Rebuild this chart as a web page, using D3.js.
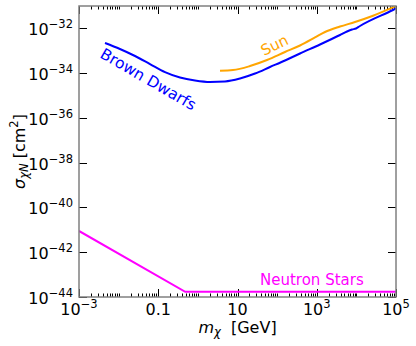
<!DOCTYPE html>
<html lang="en">
<head>
<meta charset="utf-8">
<script src="https://d3js.org/d3.v7.min.js"></script>
<style type="text/css">
body {
	margin: 0;
	background: #fff;
	font-family: "DejaVu Sans", sans-serif;
}
</style>
</head>
<body>
<script type="text/javascript">

// Figure size and plot box
var width = 416;
var height = 346;
var margin = {left: 79, right: 20, top: 6, bottom: 49};

// Brown dwarf limit (mass in GeV, cross section in cm^2)
var bdMass  = [0.00453, 0.0108, 0.0259, 0.0619, 0.148, 0.354, 0.846, 2.02, 4.84, 11.6, 27.7, 66.1, 158, 378, 1208, 3864, 5797, 7762, 9795, 12340, 84000, 1e5];
var bdSigma = [2.22e-33, 1.20e-33, 5.83e-34, 2.56e-34, 1.12e-34, 6.4e-35, 4.70e-35, 4.03e-35, 4.24e-35, 5.77e-35, 9.6e-35, 1.88e-34, 3.67e-34, 7.55e-34, 1.91e-33, 5.06e-33, 7.26e-33, 8.91e-33, 9.89e-33, 1.28e-32, 6.62e-32, 7.73e-32];

// Sun limit
var sunMass  = [3.62, 7.70, 20.7, 55.5, 158, 378, 903, 1615, 3864, 9230, 26300, 1e5];
var sunSigma = [1.29e-34, 1.38e-34, 2.08e-34, 3.86e-34, 8.81e-34, 1.72e-33, 3.92e-33, 6.89e-33, 1.21e-32, 1.93e-32, 3.68e-32, 1.0e-31];

// Neutron star limit
var nsMass  = [1e-3, 0.48, 1e5];
var nsSigma = [8.9e-42, 1.7e-44, 1.7e-44];

// Tick labels
var xTicks = [1e-3, 1e-1, 1e1, 1e3, 1e5];
var xTickText = [["10", "−3"], ["0.1", ""], ["10", ""], ["10", "3"], ["10", "5"]];
var yTicks = [1e-32, 1e-34, 1e-36, 1e-38, 1e-40, 1e-42, 1e-44];
var yTickText = ["−32", "−34", "−36", "−38", "−40", "−42", "−44"];

var x = d3.scaleLog()
          .domain([1e-3, 1e5])
          .range([margin.left, width - margin.right]);

var y = d3.scaleLog()
          .domain([1e-44, 1e-31])
          .range([height - margin.bottom, margin.top]);

var svg = d3.select("body")
            .append("svg")
            .attr("width", width)
            .attr("height", height);

var x0 = x.range()[0], x1 = x.range()[1];
var y0 = y.range()[0], y1 = y.range()[1];

// clip so curves stay inside the frame
svg.append("clipPath")
   .attr("id", "clip")
   .append("rect")
   .attr("x", x0).attr("y", y1)
   .attr("width", x1 - x0).attr("height", y0 - y1);

// minor ticks on x (every k*10^n)
var minor = [];
for (var e = -3; e < 5; e++) {
  for (var k = 1; k < 10; k++) {
    var v = k * Math.pow(10, e);
    if (xTicks.indexOf(v) < 0 && v > 1e-3) minor.push(v);
  }
}

var ticks = svg.append("g")
               .attr("stroke", "#000")
               .attr("stroke-width", 1);

minor.forEach(function(v) {
  var px = Math.round(x(v)) + 0.5;
  ticks.append("line").attr("x1", px).attr("x2", px).attr("y1", y0).attr("y2", y0 - 3.5);
  ticks.append("line").attr("x1", px).attr("x2", px).attr("y1", y1).attr("y2", y1 + 3.5);
});

xTicks.forEach(function(v) {
  var px = Math.round(x(v)) + 0.5;
  ticks.append("line").attr("x1", px).attr("x2", px).attr("y1", y0).attr("y2", y0 - 8);
  ticks.append("line").attr("x1", px).attr("x2", px).attr("y1", y1).attr("y2", y1 + 8);
});

yTicks.forEach(function(v) {
  var py = Math.round(y(v)) + 0.5;
  ticks.append("line").attr("x1", x0).attr("x2", x0 + 8).attr("y1", py).attr("y2", py);
  ticks.append("line").attr("x1", x1).attr("x2", x1 - 8).attr("y1", py).attr("y2", py);
});

// curves
var line = d3.line()
             .x(function(d) { return x(d[0]); })
             .y(function(d) { return y(d[1]); });

var plot = svg.append("g").attr("clip-path", "url(#clip)");

plot.append("path")
    .datum(d3.zip(nsMass, nsSigma))
    .attr("d", line)
    .attr("fill", "none")
    .attr("stroke", "#ff00ff")
    .attr("stroke-width", 2);

plot.append("path")
    .datum(d3.zip(sunMass, sunSigma))
    .attr("d", line.curve(d3.curveMonotoneX))
    .attr("fill", "none")
    .attr("stroke", "orange")
    .attr("stroke-width", 2);

plot.append("path")
    .datum(d3.zip(bdMass, bdSigma))
    .attr("d", line.curve(d3.curveMonotoneX))
    .attr("fill", "none")
    .attr("stroke", "#0000ff")
    .attr("stroke-width", 2);

// frame
svg.append("rect")
   .attr("x", x0).attr("y", y1)
   .attr("width", x1 - x0).attr("height", y0 - y1)
   .attr("fill", "none")
   .attr("stroke", "#808080")
   .attr("stroke-width", 1.5);

// x tick labels
xTicks.forEach(function(v, i) {
  var t = svg.append("text")
             .attr("x", x(v))
             .attr("y", 315)
             .attr("text-anchor", "middle")
             .attr("font-size", 16)
             .attr("fill", "#000");
  t.append("tspan").text(xTickText[i][0]);
  if (xTickText[i][1]) {
    t.append("tspan").attr("dy", -7).attr("font-size", 11.5).text(xTickText[i][1]);
  }
});

// y tick labels
yTicks.forEach(function(v, i) {
  var t = svg.append("text")
             .attr("x", 73)
             .attr("y", y(v) + 7)
             .attr("text-anchor", "end")
             .attr("font-size", 16)
             .attr("fill", "#000");
  t.append("tspan").text("10");
  t.append("tspan").attr("dy", -7).attr("font-size", 11.5).text(yTickText[i]);
});

// axis labels
var xl = svg.append("text")
            .attr("x", (x0 + x1) / 2)
            .attr("y", 333)
            .attr("text-anchor", "middle")
            .attr("font-size", 16);
xl.append("tspan").attr("font-style", "italic").text("m");
xl.append("tspan").attr("font-style", "italic").attr("font-size", 11.5).attr("dy", 3).text("χ");
xl.append("tspan").attr("dy", -3).text("\u00a0 [GeV]");

var yl = svg.append("text")
            .attr("transform", "translate(25," + ((y0 + y1) / 2) + ") rotate(-90)")
            .attr("text-anchor", "middle")
            .attr("font-size", 16);
yl.append("tspan").attr("font-style", "italic").text("σ");
yl.append("tspan").attr("font-style", "italic").attr("font-size", 11.5).attr("dy", 3).text("χN");
yl.append("tspan").attr("dy", -3).text("\u00a0[cm");
yl.append("tspan").attr("dy", -7).attr("font-size", 11.5).text("2");
yl.append("tspan").attr("dy", 7).text("]");

// curve labels
svg.append("text")
   .attr("transform", "translate(99,57) rotate(30)")
   .attr("font-size", 15.5)
   .attr("fill", "#0000ff")
   .text("Brown Dwarfs");

svg.append("text")
   .attr("transform", "translate(264,56) rotate(-26)")
   .attr("font-size", 15)
   .attr("fill", "orange")
   .text("Sun");

svg.append("text")
   .attr("x", 260)
   .attr("y", 285)
   .attr("font-size", 15)
   .attr("fill", "#ff00ff")
   .text("Neutron Stars");

</script>
</body>
</html>
